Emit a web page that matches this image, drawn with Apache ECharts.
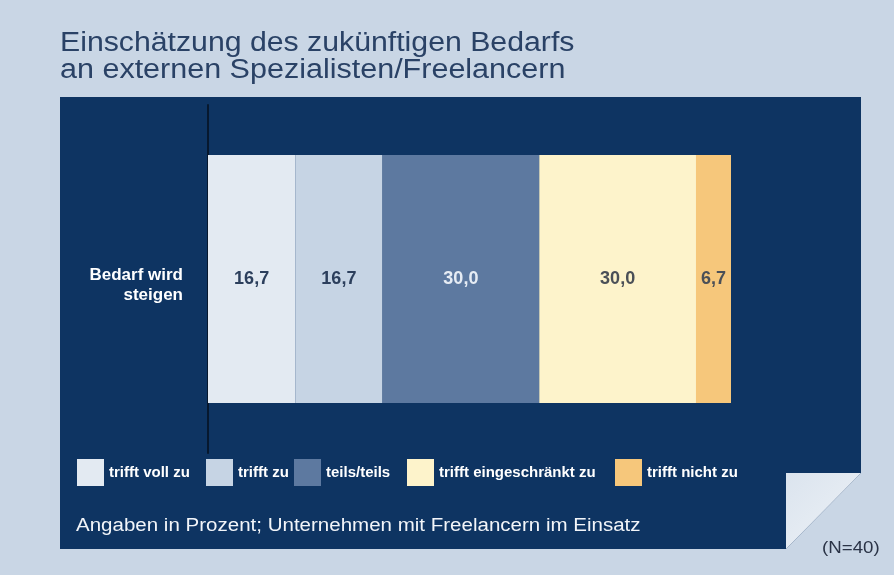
<!DOCTYPE html>
<html>
<head>
<meta charset="utf-8">
<script src="https://cdn.jsdelivr.net/npm/echarts@6/dist/echarts.min.js"></script>
<style>
html,body{margin:0;padding:0;background:#c9d6e5;}
#chart{width:894px;height:575px;}
</style>
</head>
<body>
<div id="chart"></div>
<script>
const titleLines = ['Einschätzung des zukünftigen Bedarfs', 'an externen Spezialisten/Freelancern'];
const categories = ['Bedarf wird\nsteigen'];
const seriesNames = ['trifft voll zu', 'trifft zu', 'teils/teils', 'trifft eingeschränkt zu', 'trifft nicht zu'];
const seriesValues = [[16.7], [16.7], [30.0], [30.0], [6.7]];
const seriesColors = ['#e3eaf2', '#c6d4e4', '#5d79a0', '#fdf3cb', '#f6c77b'];
const labelColors = ['#2c3f5c', '#2c3f5c', '#e6ecf4', '#4a4f57', '#4a4f57'];
const footnote = 'Angaben in Prozent; Unternehmen mit Freelancern im Einsatz';
const sampleNote = '(N=40)';
const legendLeft = [77, 206, 294, 407, 615];

const chart = echarts.init(document.getElementById('chart'));
const FONT = '"Liberation Sans", Arial, Helvetica, sans-serif';
const total = seriesValues.reduce((s, v) => s + v[0], 0);

const option = {
  backgroundColor: '#c9d6e5',
  animation: false,
  textStyle: { fontFamily: FONT },
  graphic: [
    { type: 'polygon', z: -10, shape: { points: [[60, 97], [861, 97], [861, 473], [786, 549], [60, 549]] }, style: { fill: '#0e3462' } },
    { type: 'polygon', z: -9, shape: { points: [[786, 473], [861, 473], [786, 549]] },
      style: { fill: new echarts.graphic.LinearGradient(0, 0, 1, 1, [{ offset: 0, color: '#dbe4ee' }, { offset: 1, color: '#eef2f7' }]) } },
    { type: 'text', x: 60, y: 44, scaleX: 1.12, z: 5,
      style: { text: titleLines[0], fill: '#2a4266', font: '27px ' + FONT, verticalAlign: 'middle' } },
    { type: 'text', x: 60, y: 71, scaleX: 1.13, z: 5,
      style: { text: titleLines[1], fill: '#2a4266', font: '27px ' + FONT, verticalAlign: 'middle' } },
    { type: 'text', x: 76, y: 526, scaleX: 1.14, z: 5,
      style: { text: footnote, fill: '#f2f5f9', font: '18px ' + FONT, verticalAlign: 'middle' } },
    { type: 'text', x: 822, y: 548, scaleX: 1.1, z: 5,
      style: { text: sampleNote, fill: '#2a3346', font: '17px ' + FONT, verticalAlign: 'middle' } }
  ],
  legend: seriesNames.map((n, i) => ({
    data: [n], left: legendLeft[i], top: 459, itemWidth: 27, itemHeight: 27, itemGap: 0, padding: 0,
    icon: 'rect', selectedMode: false,
    textStyle: { color: '#ffffff', fontSize: 15, fontWeight: 'bold', fontFamily: FONT }
  })),
  grid: { left: 208, right: 163, top: 105, bottom: 122, containLabel: false },
  xAxis: { type: 'value', min: 0, max: total, show: false },
  yAxis: {
    type: 'category', data: categories,
    axisLine: { show: true, lineStyle: { color: '#07182e', width: 2 } },
    axisTick: { show: false },
    axisLabel: {
      margin: 25, align: 'right',
      formatter: v => '{s|}\n' + v.split('\n').map(l => '{a|' + l + '}').join('\n'),
      rich: {
        s: { lineHeight: 12, fontSize: 1 },
        a: { color: '#ffffff', fontSize: 17, fontWeight: 'bold', fontFamily: FONT, lineHeight: 20, align: 'right' }
      }
    }
  },
  series: seriesNames.map((n, i) => ({
    name: n, type: 'bar', stack: 'all', data: seriesValues[i], barWidth: 248,
    itemStyle: { color: seriesColors[i] },
    label: {
      show: true, position: 'inside',
      formatter: p => p.value.toFixed(1).replace('.', ','),
      color: labelColors[i], fontSize: 18, fontWeight: 'bold', fontFamily: FONT
    }
  }))
};
chart.setOption(option);
</script>
</body>
</html>
